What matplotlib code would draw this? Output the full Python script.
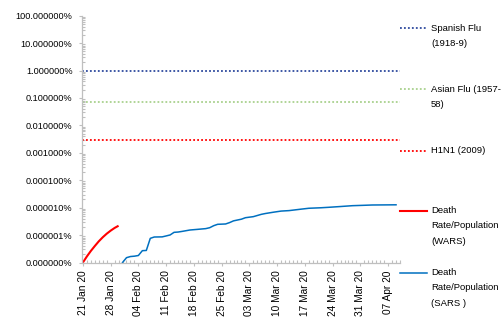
import matplotlib
matplotlib.use('Agg')
import matplotlib.pyplot as plt
import matplotlib.dates as mdates
import matplotlib.ticker as mticker
from matplotlib.lines import Line2D
import pandas as pd

plt.rcParams['font.family'] = ['Liberation Sans', 'DejaVu Sans']

# =============================================================================
# Data (fraction of population)
# =============================================================================

START = pd.Timestamp('2020-01-21')

# historical pandemic reference levels
FLU_LABELS = ['Spanish Flu\n(1918-9)', 'Asian Flu (1957-\n58)', 'H1N1 (2009)']
FLU_RATES  = [1.0e-2, 7.0e-4, 3.0e-5]
FLU_COLORS = ['#2E4A9E', '#A9D18E', '#FF0000']

# WARS: days since 21 Jan 20 -> death rate / population
WARS_DAYS  = [0, 1, 2, 3, 4, 5, 6, 7, 8, 9]
WARS_RATE  = [1.0e-9, 1.66e-9, 2.63e-9, 3.98e-9, 5.9e-9, 8.3e-9,
              1.12e-8, 1.45e-8, 1.82e-8, 2.19e-8]

# SARS
SARS_DAYS  = [10, 11, 12, 13, 14, 15, 16, 17, 18, 20, 21, 22, 23, 24, 25,
              27, 29, 31, 32, 33, 34, 36, 37, 38, 40, 41, 43, 45, 46, 48,
              50, 52, 55, 57, 60, 62, 65, 68, 71, 73, 76, 79]
SARS_RATE  = [1.0, 1.5, 1.65, 1.7, 1.8, 2.7, 2.75, 7.6, 8.5, 8.6, 9.3, 10.1,
              12.6, 12.9, 13.6, 15.3, 16.2, 17.2, 18.6, 22.0, 24.7, 25.4,
              28.5, 33.0, 38.0, 43.0, 47.0, 57.0, 61.0, 68.0, 75.0, 78.0,
              88.0, 95.0, 99.0, 103.0, 110.0, 118.0, 122.0, 125.0, 126.0,
              127.0]
SARS_RATE  = [v * 1e-9 for v in SARS_RATE]

SERIES_LABELS = ['Death\nRate/Population\n(WARS)', 'Death\nRate/Population\n(SARS )']
SERIES_COLORS = ['#FF0000', '#0070C0']

Y_TICKS = [1e-9, 1e-8, 1e-7, 1e-6, 1e-5, 1e-4, 1e-3, 1e-2, 1e-1, 1.0]


def to_dates(days):
    return [START + pd.Timedelta(days=d) for d in days]


# =============================================================================
# Plot
# =============================================================================

W, H = 502, 322
fig = plt.figure(figsize=(W / 100, H / 100), dpi=100)
ax = fig.add_axes([82.5 / W, 1 - 262.5 / H, (400 - 82.5) / W, (262.5 - 15.7) / H])

FS_Y = 6.6
FS_X = 7.3
FS_LEG = 6.8
GRID = '#BFBFBF'
DOT = (0, (1, 1.2))

for rate, col in zip(FLU_RATES, FLU_COLORS):
    ax.axhline(rate, color=col, lw=1.3, ls=DOT)

ax.plot(to_dates(WARS_DAYS), WARS_RATE, color=SERIES_COLORS[0], lw=1.5,
        solid_capstyle='butt')
ax.plot(to_dates(SARS_DAYS), SARS_RATE, color=SERIES_COLORS[1], lw=1.1)

ax.set_yscale('log')
ax.set_ylim(1e-9, 1.0)
ax.set_yticks(Y_TICKS)
ax.yaxis.set_major_formatter(mticker.FuncFormatter(lambda v, _: f'{v * 100:.6f}%'))
ax.yaxis.set_minor_locator(mticker.LogLocator(base=10, subs=range(2, 10), numticks=20))
ax.yaxis.set_minor_formatter(mticker.NullFormatter())

ax.set_xlim(START - pd.Timedelta(days=0.1), START + pd.Timedelta(days=80))
ax.set_xticks(to_dates(range(0, 78, 7)))
ax.xaxis.set_major_formatter(mdates.DateFormatter('%d %b %y'))
ax.xaxis.set_minor_locator(mdates.DayLocator())

for s in ('top', 'right'):
    ax.spines[s].set_visible(False)
for s in ('left', 'bottom'):
    ax.spines[s].set_color(GRID)
    ax.spines[s].set_linewidth(0.9)

ax.tick_params(axis='both', which='both', color=GRID, width=0.8)
ax.tick_params(axis='both', which='major', direction='out', length=2.2)
ax.tick_params(axis='both', which='minor', direction='in', length=2)
ax.tick_params(axis='y', labelsize=FS_Y, pad=5)
ax.tick_params(axis='x', labelsize=FS_X, pad=3.3)
for lab in ax.get_xticklabels():
    lab.set_rotation(90)

# legend, right of the plot
entries = [
    (FLU_LABELS[0], FLU_COLORS[0], 28.3, True),
    (FLU_LABELS[1], FLU_COLORS[1], 89.3, True),
    (FLU_LABELS[2], FLU_COLORS[2], 150.7, True),
    (SERIES_LABELS[0], SERIES_COLORS[0], 210.7, False),
    (SERIES_LABELS[1], SERIES_COLORS[1], 272.7, False),
]
for label, col, y, dotted in entries:
    yf = 1 - y / H
    if dotted:
        fig.add_artist(Line2D([400 / W, 427 / W], [yf, yf], color=col, lw=1.3, ls=DOT))
    else:
        fig.add_artist(Line2D([400 / W, 427 / W], [yf, yf], color=col,
                              lw=1.5 if col == '#FF0000' else 1.1))
    fig.text(431 / W, 1 - (y - 4.5) / H, label, fontsize=FS_LEG, va='top', ha='left',
             linespacing=1.9)

fig.savefig('out.png', dpi=100)
